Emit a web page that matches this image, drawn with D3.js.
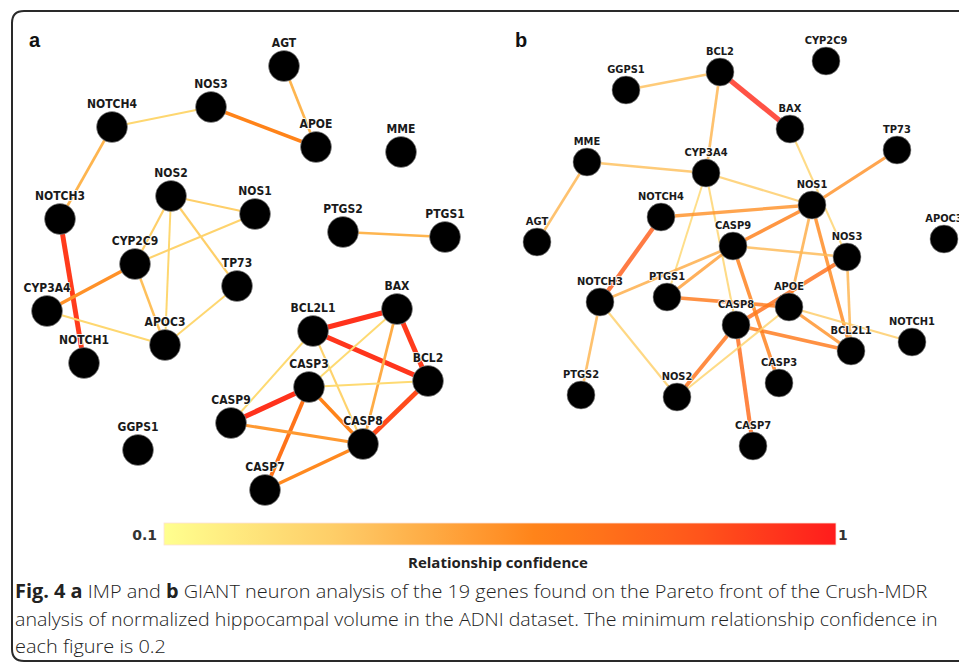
<!DOCTYPE html>
<html>
<head>
<meta charset="utf-8">
<script src="https://cdn.jsdelivr.net/npm/d3@7"></script>
<style>
  html, body { margin: 0; padding: 0; background: #fff; }
  svg { display: block; }
</style>
</head>
<body>
<svg id="fig" width="959" height="662"></svg>
<script>
// Gene network layouts (layout units inside each panel) and edge confidences.
const nodesIMP = [
  { id: "AGT", x: 264, y: 46 }, { id: "NOS3", x: 191, y: 87 }, { id: "NOTCH4", x: 92, y: 107 },
  { id: "APOE", x: 296, y: 127 }, { id: "MME", x: 381, y: 132 }, { id: "NOS2", x: 151, y: 176 },
  { id: "NOS1", x: 235, y: 194 }, { id: "NOTCH3", x: 40, y: 199 }, { id: "PTGS2", x: 323, y: 212 },
  { id: "PTGS1", x: 425, y: 217 }, { id: "CYP2C9", x: 115, y: 244 }, { id: "TP73", x: 217, y: 266 },
  { id: "CYP3A4", x: 27, y: 291 }, { id: "APOC3", x: 145, y: 325 }, { id: "NOTCH1", x: 64, y: 343 },
  { id: "BAX", x: 377, y: 289 }, { id: "BCL2L1", x: 293, y: 311 }, { id: "BCL2", x: 408, y: 361 },
  { id: "CASP3", x: 289, y: 367 }, { id: "CASP9", x: 211, y: 403 }, { id: "CASP8", x: 343, y: 424 },
  { id: "GGPS1", x: 118, y: 430 }, { id: "CASP7", x: 245, y: 470 }
];
const edgesIMP = [
  ["AGT", "APOE", 0.42], ["NOTCH4", "NOS3", 0.28], ["NOS3", "APOE", 0.6],
  ["NOTCH4", "NOTCH3", 0.42], ["NOTCH3", "NOTCH1", 0.9], ["NOS2", "NOS1", 0.32],
  ["NOS2", "CYP2C9", 0.32], ["NOS2", "APOC3", 0.28], ["NOS2", "TP73", 0.32],
  ["NOS1", "CYP2C9", 0.3], ["CYP2C9", "CYP3A4", 0.55], ["CYP2C9", "APOC3", 0.38],
  ["CYP3A4", "APOC3", 0.28], ["APOC3", "TP73", 0.28], ["PTGS2", "PTGS1", 0.42],
  ["BCL2L1", "BAX", 0.93], ["BAX", "BCL2", 0.9], ["BCL2L1", "BCL2", 0.92],
  ["BCL2L1", "CASP9", 0.27], ["BCL2L1", "CASP8", 0.3], ["BAX", "CASP3", 0.27],
  ["BAX", "CASP8", 0.45], ["CASP3", "BCL2", 0.27], ["CASP9", "CASP3", 0.93],
  ["CASP3", "CASP7", 0.68], ["CASP3", "CASP8", 0.6], ["CASP9", "CASP8", 0.52],
  ["BCL2", "CASP8", 0.85], ["CASP7", "CASP8", 0.58]
];

const nodesGIANT = [
  { id: "BCL2", x: 220, y: 52 }, { id: "CYP2C9", x: 326, y: 41 }, { id: "GGPS1", x: 126, y: 70 },
  { id: "BAX", x: 290, y: 109 }, { id: "TP73", x: 397, y: 130 }, { id: "MME", x: 87, y: 142 },
  { id: "CYP3A4", x: 206, y: 153 }, { id: "NOS1", x: 312, y: 185 }, { id: "NOTCH4", x: 161, y: 197 },
  { id: "AGT", x: 37, y: 222 }, { id: "APOC3", x: 444, y: 219 }, { id: "CASP9", x: 233, y: 226 },
  { id: "NOS3", x: 347, y: 237 }, { id: "NOTCH3", x: 100, y: 282 }, { id: "PTGS1", x: 167, y: 277 },
  { id: "APOE", x: 289, y: 287 }, { id: "CASP8", x: 236, y: 305 }, { id: "BCL2L1", x: 351, y: 331 },
  { id: "NOTCH1", x: 412, y: 322 }, { id: "PTGS2", x: 81, y: 375 }, { id: "NOS2", x: 177, y: 377 },
  { id: "CASP3", x: 279, y: 363 }, { id: "CASP7", x: 253, y: 426 }
];
const edgesGIANT = [
  ["GGPS1", "BCL2", 0.38], ["BCL2", "BAX", 0.95], ["BCL2", "CYP3A4", 0.42],
  ["BAX", "NOS3", 0.3], ["MME", "CYP3A4", 0.38], ["MME", "AGT", 0.42],
  ["CYP3A4", "NOS1", 0.33], ["CYP3A4", "PTGS1", 0.28], ["CYP3A4", "CASP8", 0.3],
  ["TP73", "NOS1", 0.55], ["NOTCH4", "NOS1", 0.55], ["NOTCH4", "NOTCH3", 0.78],
  ["NOS1", "CASP9", 0.62], ["NOS1", "APOE", 0.45], ["NOS1", "BCL2L1", 0.58],
  ["NOS3", "BCL2L1", 0.42], ["NOS3", "CASP8", 0.7], ["CASP9", "NOS3", 0.4],
  ["CASP9", "NOTCH3", 0.45], ["CASP9", "PTGS1", 0.5], ["CASP9", "CASP3", 0.62],
  ["PTGS1", "APOE", 0.65], ["APOE", "BCL2L1", 0.55], ["APOE", "NOTCH1", 0.33],
  ["CASP8", "BCL2L1", 0.65], ["CASP8", "NOS2", 0.68], ["CASP8", "CASP7", 0.72],
  ["APOE", "NOS2", 0.3], ["NOTCH3", "NOS2", 0.32], ["NOTCH3", "PTGS2", 0.42]
];

const confidenceDomain = [0.1, 1];
const confidenceTicks = ["0.1", "1"];
const colorStops = [0.1, 0.35, 0.6, 0.8, 1];
const colorValues = ["#ffff8f", "#fec864", "#ff8319", "#ff5a1b", "#ff1c1c"];

const captionLines = [
  [["Fig. 4", true], [" ", false], ["a", true], [" IMP and ", false], ["b", true],
   [" GIANT neuron analysis of the 19 genes found on the Pareto front of the Crush-MDR", false]],
  [["analysis of normalized hippocampal volume in the ADNI dataset. The minimum relationship confidence in", false]],
  [["each figure is 0.2", false]]
];

const svg = d3.select("#fig");

// Outer frame with a rounded corner, open on the right side.
svg.append("path")
  .attr("d", "M 980 11 L 24 11 Q 12 11 12 23 L 12 649 Q 12 661 24 661 L 980 661")
  .attr("fill", "none")
  .attr("stroke", "#2a2a2a")
  .attr("stroke-width", 2);

const color = d3.scaleLinear().domain(colorStops).range(colorValues).interpolate(d3.interpolateRgb);
const width = d3.scaleLinear().domain([0.2, 1]).range([1.6, 5.4]);

function drawPanel(nodes, edges, opts) {
  const g = svg.append("g");
  const sx = d3.scaleLinear().domain([0, 460]).range([opts.x0, opts.x0 + 460]);
  const sy = d3.scaleLinear().domain([0, 460]).range([opts.y0, opts.y0 + 460]);
  const byId = new Map(nodes.map(n => [n.id, n]));

  g.append("g").selectAll("line").data(edges).join("line")
    .attr("x1", d => sx(byId.get(d[0]).x)).attr("y1", d => sy(byId.get(d[0]).y))
    .attr("x2", d => sx(byId.get(d[1]).x)).attr("y2", d => sy(byId.get(d[1]).y))
    .attr("stroke", d => color(d[2]))
    .attr("stroke-opacity", opts.edgeOpacity)
    .attr("stroke-width", d => width(d[2]));

  g.append("g").selectAll("circle").data(nodes).join("circle")
    .attr("cx", d => sx(d.x)).attr("cy", d => sy(d.y))
    .attr("r", opts.r)
    .attr("fill", "#000")
    .attr("stroke", "#9a9a9a").attr("stroke-width", 0.6);

  g.append("g").selectAll("text").data(nodes).join("text")
    .attr("x", d => sx(d.x)).attr("y", d => sy(d.y) - opts.labelGap)
    .attr("text-anchor", "middle")
    .attr("font-family", "'DejaVu Sans Condensed', 'DejaVu Sans', Verdana, sans-serif")
    .attr("font-stretch", "condensed")
    .attr("font-weight", "bold")
    .attr("font-size", opts.fontSize)
    .attr("fill", "#1a1a1a")
    .attr("stroke", "#fff").attr("stroke-width", 1.5).attr("paint-order", "stroke")
    .text(d => d.id);

  svg.append("text")
    .attr("x", opts.tagX).attr("y", 47)
    .attr("font-family", "Arial, 'Liberation Sans', sans-serif")
    .attr("font-weight", "bold").attr("font-size", 20)
    .attr("fill", "#111")
    .text(opts.tag);
}

drawPanel(nodesIMP, edgesIMP, { x0: 20, y0: 20, r: 15.5, labelGap: 19, fontSize: 12, edgeOpacity: 1, tag: "a", tagX: 29 });
drawPanel(nodesGIANT, edgesGIANT, { x0: 500, y0: 20, r: 14, labelGap: 17, fontSize: 11, edgeOpacity: 0.82, tag: "b", tagX: 515 });

// Colour legend for relationship confidence.
const barX = d3.scaleLinear().domain(confidenceDomain).range([164, 836]);
const defs = svg.append("defs");
const grad = defs.append("linearGradient").attr("id", "confGrad").attr("x1", "0%").attr("x2", "100%");
grad.selectAll("stop").data(d3.range(0, 1.0001, 0.05)).join("stop")
  .attr("offset", t => (t * 100) + "%")
  .attr("stop-color", t => color(confidenceDomain[0] + t * (confidenceDomain[1] - confidenceDomain[0])));

svg.append("rect")
  .attr("x", barX(confidenceDomain[0])).attr("y", 523)
  .attr("width", barX(confidenceDomain[1]) - barX(confidenceDomain[0])).attr("height", 22)
  .attr("fill", "url(#confGrad)")
  .attr("stroke", "#fde0d8").attr("stroke-width", 0.8);

svg.append("text")
  .attr("x", barX(confidenceDomain[0]) - 7).attr("y", 540)
  .attr("text-anchor", "end")
  .attr("font-family", "'DejaVu Sans', Verdana, sans-serif")
  .attr("font-weight", "bold").attr("font-size", 14).attr("fill", "#333")
  .text(confidenceTicks[0]);
svg.append("text")
  .attr("x", barX(confidenceDomain[1]) + 2).attr("y", 540)
  .attr("font-family", "'DejaVu Sans', Verdana, sans-serif")
  .attr("font-weight", "bold").attr("font-size", 14).attr("fill", "#333")
  .text(confidenceTicks[1]);

// Fit a text element horizontally to a target width.
function fitWidth(sel, x, y, target, anchorCenter) {
  const w = sel.node().getComputedTextLength();
  const k = target / w;
  const left = anchorCenter ? x - target / 2 : x;
  sel.attr("x", 0).attr("y", 0)
    .attr("transform", `translate(${left},${y}) scale(${k},1)`);
}

const legendTitle = svg.append("text")
  .attr("font-family", "'Open Sans', 'Noto Sans', sans-serif")
  .attr("font-weight", "bold").attr("font-size", 14).attr("fill", "#222")
  .text("Relationship confidence");
fitWidth(legendTitle, 498, 568, 180, true);

// Figure caption.
const captionY = [598, 626, 653];
const captionW = [913, 923, 151];
captionLines.forEach((parts, i) => {
  const t = svg.append("text")
    .attr("font-family", "'Open Sans', 'Noto Sans', sans-serif")
    .attr("font-size", 19).attr("fill", "#222");
  parts.forEach(([s, b]) => {
    t.append("tspan").attr("font-weight", b ? "bold" : 300).text(s);
  });
  fitWidth(t, 15, captionY[i], captionW[i], false);
});
</script>
</body>
</html>
